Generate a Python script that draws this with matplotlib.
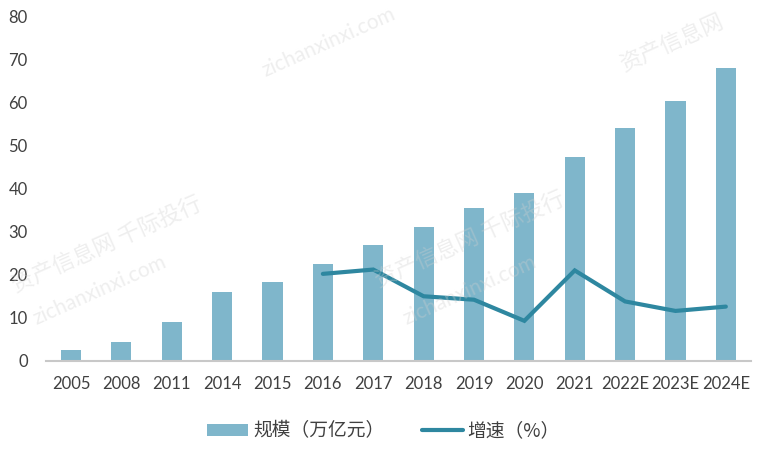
import matplotlib
matplotlib.use("Agg")
import matplotlib.pyplot as plt
import numpy as np

plt.rcParams['font.family'] = ['Lato', 'Noto Sans CJK SC', 'DejaVu Sans']

# data
years = ['2005', '2008', '2011', '2014', '2015', '2016', '2017', '2018',
         '2019', '2020', '2021', '2022E', '2023E', '2024E']
scale = [2.5, 4.5, 9.1, 15.9, 18.2, 22.4, 26.8, 31.0, 35.4, 38.9, 47.3, 54.0, 60.3, 68.0]
growth_years = ['2016', '2017', '2018', '2019', '2020', '2021', '2022E', '2023E', '2024E']
growth = [20.2, 21.2, 15.0, 14.2, 9.3, 21.0, 13.8, 11.6, 12.6]

bar_color = '#7fb6cb'
line_color = '#2e87a0'
text_color = '#404040'

fig = plt.figure(figsize=(7.64, 4.5), dpi=100)
ax = fig.add_axes([0.060, 0.198, 0.923, 0.766])

x = np.arange(len(years))
bars = ax.bar(x, scale, width=0.4, color=bar_color, label='规模（万亿元）', zorder=2)
gx = [years.index(y) for y in growth_years]
line, = ax.plot(gx, growth, color=line_color, linewidth=3, solid_capstyle='round',
                solid_joinstyle='miter', label='增速（%）', zorder=3)

ax.set_xlim(-0.5, len(years) - 0.5)
ax.set_ylim(0, 80)
ax.set_yticks(range(0, 81, 10))
ax.set_xticks(x)
ax.set_xticklabels(years)
ax.tick_params(axis='both', length=0, labelsize=12, colors=text_color)
ax.tick_params(axis='y', pad=13)
ax.tick_params(axis='x', pad=11)
for s in ['top', 'right', 'left']:
    ax.spines[s].set_visible(False)
ax.spines['bottom'].set_color('#c8c8c8')
ax.spines['bottom'].set_linewidth(1.5)

# faint watermarks laid over the chart
cjk = ['Noto Sans CJK SC', 'DejaVu Sans']
wm = dict(color='#d0d0d0', alpha=0.35, rotation=24, ha='center', va='center', zorder=5)
fig.text(0.140, 0.455, '资产信息网 千际投行', fontsize=16, family=cjk, **wm)
fig.text(0.130, 0.355, 'zichanxinxi.com', fontsize=15, **wm)
fig.text(0.615, 0.465, '资产信息网 千际投行', fontsize=16, family=cjk, **wm)
fig.text(0.615, 0.355, 'zichanxinxi.com', fontsize=15, **wm)
fig.text(0.430, 0.905, 'zichanxinxi.com', fontsize=15, **wm)
fig.text(0.880, 0.905, '资产信息网', fontsize=16, family=cjk, **wm)

leg = fig.legend([bars, line], ['规模（万亿元）', '增速（%）'],
                 loc='center', bbox_to_anchor=(0.502, 0.042), ncol=2, frameon=False,
                 prop={'family': cjk, 'size': 13.5},
                 handlelength=2.2, handleheight=0.6, columnspacing=2.0, handletextpad=0.25)
for t in leg.get_texts():
    t.set_color(text_color)

fig.savefig('out.png', dpi=100)
